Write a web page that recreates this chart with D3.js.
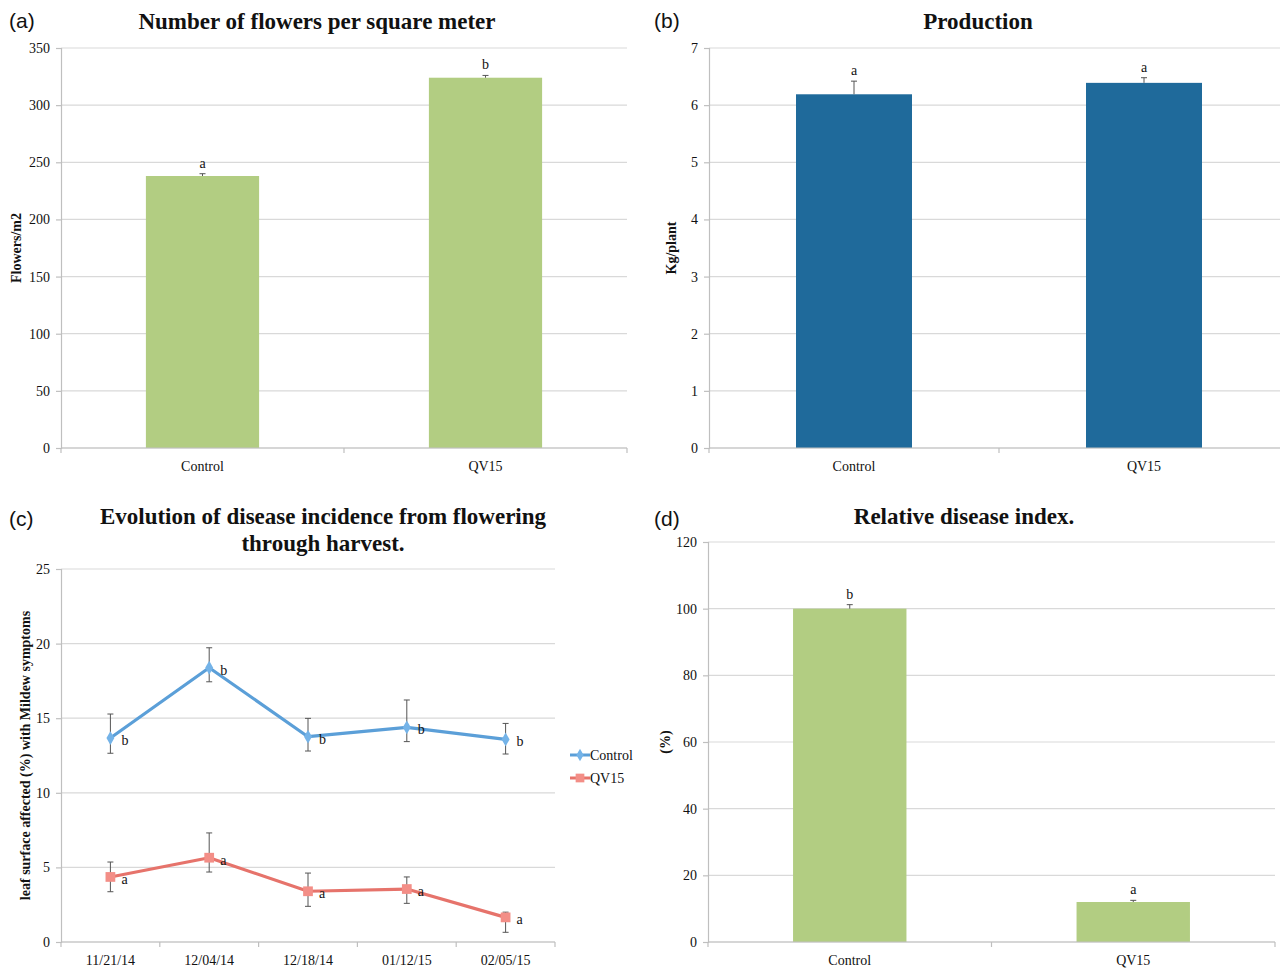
<!DOCTYPE html>
<html>
<head>
<meta charset="utf-8">
<script src="https://cdn.jsdelivr.net/npm/d3@7"></script>
<style>
  html, body { margin: 0; padding: 0; background: #fff; }
  svg { display: block; }
  svg text { font-family: "Liberation Serif", "Times New Roman", serif; fill: #111; }
  svg text.panel-tag { font-family: "Liberation Sans", Arial, sans-serif; font-size: 21px; }
  .title { font-weight: bold; font-size: 23px; }
  .ylab { font-weight: bold; font-size: 14px; }
  .sig { font-size: 14px; }
</style>
</head>
<body>
<svg id="fig" width="1280" height="968"></svg>
<script>
// ---- data ----
const treatments = ["Control", "QV15"];

// (a) flowers per square meter
const flowersMean = [238, 324];
const flowersErr = [2, 2];
const flowersSig = ["a", "b"];
const flowersTicks = [0, 50, 100, 150, 200, 250, 300, 350];

// (b) production, kg per plant
const productionMean = [6.19, 6.39];
const productionErr = [0.23, 0.09];
const productionSig = ["a", "a"];
const productionTicks = [0, 1, 2, 3, 4, 5, 6, 7];

// (c) disease incidence over time
const sampleDates = ["11/21/14", "12/04/14", "12/18/14", "01/12/15", "02/05/15"];
const controlIncidence = [13.67, 18.38, 13.76, 14.39, 13.58];
const controlErrUp = [1.61, 1.34, 1.23, 1.83, 1.07];
const controlErrDown = [1.02, 0.94, 0.96, 0.96, 0.98];
const controlSig = ["b", "b", "b", "b", "b"];
const qv15Incidence = [4.36, 5.65, 3.40, 3.55, 1.65];
const qv15ErrUp = [1.00, 1.66, 1.22, 0.81, 0.35];
const qv15ErrDown = [0.99, 0.96, 1.01, 0.96, 1.00];
const qv15Sig = ["a", "a", "a", "a", "a"];
const incidenceTicks = [0, 5, 10, 15, 20, 25];

// (d) relative disease index
const indexMean = [100, 12];
const indexErr = [1.2, 0.5];
const indexSig = ["b", "a"];
const indexTicks = [0, 20, 40, 60, 80, 100, 120];

// ---- styling ----
const GRID = "#d9d9d9";
const AXIS = "#bfbfbf";
const ERR = "#555";
const GREEN = "#b2cd82";
const NAVY = "#1f6a9b";
const BLUE_LINE = "#5b9fd8";
const BLUE_MARK = "#74b3e8";
const RED_LINE = "#e6736b";
const RED_MARK = "#f38e87";
const SERIF = '"Liberation Serif", "Times New Roman", serif';

const svg = d3.select("#fig");

function drawGridAndAxes(g, x, y, ticks, x0, x1) {
  // horizontal gridlines
  g.append("g").selectAll("line").data(ticks).join("line")
    .attr("x1", x0).attr("x2", x1)
    .attr("y1", d => y(d)).attr("y2", d => y(d))
    .attr("stroke", GRID).attr("stroke-width", 1.2);
  // y axis
  const ya = g.append("g").attr("transform", `translate(${x0},0)`)
    .call(d3.axisLeft(y).tickValues(ticks).tickSize(5).tickPadding(6).tickFormat(d3.format("d")));
  ya.select(".domain").attr("stroke", AXIS).attr("stroke-width", 1.2);
  ya.selectAll(".tick line").attr("stroke", AXIS).attr("stroke-width", 1.2);
  ya.selectAll(".tick text").style("font-size", "14px").style("font-family", SERIF).style("fill", "#111");
}

function drawCategoryAxis(g, x, y0, x0, x1, labels, labelY) {
  const edges = [x0];
  labels.forEach(c => edges.push(x(c) + x.step()));
  g.append("line").attr("x1", x0).attr("x2", x1).attr("y1", y0).attr("y2", y0)
    .attr("stroke", AXIS).attr("stroke-width", 1.2);
  g.append("g").selectAll("line").data(edges).join("line")
    .attr("x1", d => d).attr("x2", d => d).attr("y1", y0).attr("y2", y0 + 5)
    .attr("stroke", AXIS).attr("stroke-width", 1.2);
  g.append("g").selectAll("text").data(labels).join("text")
    .attr("x", d => x(d) + x.bandwidth() / 2).attr("y", labelY)
    .attr("text-anchor", "middle").style("font-size", "14px").text(d => d);
}

function barPanel(opts) {
  const g = svg.append("g");
  const x = d3.scaleBand().domain(treatments).range([opts.x0, opts.x1]).padding(0);
  const y = d3.scaleLinear().domain([0, d3.max(opts.ticks)]).range([opts.yBottom, opts.yTop]);
  drawGridAndAxes(g, x, y, opts.ticks, opts.x0, opts.x1);
  const bw = x.bandwidth() * 0.4;
  const cx = d => x(d) + x.bandwidth() / 2;
  g.append("g").selectAll("rect").data(treatments).join("rect")
    .attr("x", d => cx(d) - bw / 2).attr("width", bw)
    .attr("y", (d, i) => y(opts.values[i]))
    .attr("height", (d, i) => y(0) - y(opts.values[i]))
    .attr("fill", opts.color);
  // upper error bars
  const eb = g.append("g").attr("stroke", ERR).attr("stroke-width", 1);
  treatments.forEach((d, i) => {
    const top = y(opts.values[i] + opts.errors[i]);
    eb.append("line").attr("x1", cx(d)).attr("x2", cx(d)).attr("y1", y(opts.values[i])).attr("y2", top);
    eb.append("line").attr("x1", cx(d) - 3).attr("x2", cx(d) + 3).attr("y1", top).attr("y2", top);
  });
  g.append("g").selectAll("text").data(treatments).join("text")
    .attr("class", "sig")
    .attr("x", d => cx(d)).attr("y", (d, i) => y(opts.values[i] + opts.errors[i]) - 6)
    .attr("text-anchor", "middle").text((d, i) => opts.sig[i]);
  drawCategoryAxis(g, x, y(0), opts.x0, opts.x1, treatments, opts.yBottom + 23);
  // titles
  g.append("text").attr("class", "panel-tag").attr("x", opts.tagX).attr("y", opts.tagY).text(opts.tag);
  g.append("text").attr("class", "title").attr("x", opts.titleX).attr("y", opts.titleY)
    .attr("text-anchor", "middle").text(opts.title);
  g.append("text").attr("class", "ylab")
    .attr("transform", `translate(${opts.ylabX},${(opts.yTop + opts.yBottom) / 2}) rotate(-90)`)
    .attr("text-anchor", "middle").text(opts.ylab);
}

// (a)
barPanel({
  x0: 61, x1: 627, yTop: 48, yBottom: 448,
  ticks: flowersTicks, values: flowersMean, errors: flowersErr, sig: flowersSig,
  color: GREEN, tag: "(a)", tagX: 9, tagY: 28,
  title: "Number of flowers per square meter", titleX: 317, titleY: 29,
  ylab: "Flowers/m2", ylabX: 21
});

// (b)
barPanel({
  x0: 709, x1: 1289, yTop: 48, yBottom: 448,
  ticks: productionTicks, values: productionMean, errors: productionErr, sig: productionSig,
  color: NAVY, tag: "(b)", tagX: 654, tagY: 28,
  title: "Production", titleX: 978, titleY: 29,
  ylab: "Kg/plant", ylabX: 676
});

// (d)
barPanel({
  x0: 708, x1: 1275, yTop: 542, yBottom: 942,
  ticks: indexTicks, values: indexMean, errors: indexErr, sig: indexSig,
  color: GREEN, tag: "(d)", tagX: 654, tagY: 526,
  title: "Relative disease index.", titleX: 964, titleY: 524,
  ylab: "(%)", ylabX: 670
});

// (c) line chart
(function () {
  const g = svg.append("g");
  const x0 = 61, x1 = 555, yTop = 569, yBottom = 942;
  const x = d3.scaleBand().domain(sampleDates).range([x0, x1]).padding(0);
  const y = d3.scaleLinear().domain([0, 25]).range([yBottom, yTop]);
  drawGridAndAxes(g, x, y, incidenceTicks, x0, x1);
  drawCategoryAxis(g, x, y(0), x0, x1, sampleDates, yBottom + 23);
  const cx = d => x(d) + x.bandwidth() / 2;

  const series = [
    { name: "Control", vals: controlIncidence, up: controlErrUp, dn: controlErrDown, sig: controlSig,
      line: BLUE_LINE, mark: BLUE_MARK, shape: d3.symbolDiamond, size: 55 },
    { name: "QV15", vals: qv15Incidence, up: qv15ErrUp, dn: qv15ErrDown, sig: qv15Sig,
      line: RED_LINE, mark: RED_MARK, shape: d3.symbolSquare, size: 95 }
  ];

  series.forEach(s => {
    const pts = sampleDates.map((d, i) => [cx(d), y(s.vals[i])]);
    g.append("path").attr("d", d3.line()(pts))
      .attr("fill", "none").attr("stroke", s.line).attr("stroke-width", 3.2)
      .attr("stroke-linejoin", "round");
    const eb = g.append("g").attr("stroke", ERR).attr("stroke-width", 1);
    sampleDates.forEach((d, i) => {
      const hi = y(s.vals[i] + s.up[i]), lo = y(s.vals[i] - s.dn[i]);
      eb.append("line").attr("x1", cx(d)).attr("x2", cx(d)).attr("y1", hi).attr("y2", lo);
      eb.append("line").attr("x1", cx(d) - 3).attr("x2", cx(d) + 3).attr("y1", hi).attr("y2", hi);
      eb.append("line").attr("x1", cx(d) - 3).attr("x2", cx(d) + 3).attr("y1", lo).attr("y2", lo);
    });
    g.append("g").selectAll("path").data(pts).join("path")
      .attr("transform", p => `translate(${p[0]},${p[1]})`)
      .attr("d", d3.symbol().type(s.shape).size(s.size))
      .attr("fill", s.mark);
    g.append("g").selectAll("text").data(pts).join("text")
      .attr("class", "sig").attr("x", p => p[0] + 11).attr("y", p => p[1] + 7)
      .text((p, i) => s.sig[i]);
  });

  // legend
  const lg = g.append("g");
  series.forEach((s, i) => {
    const ly = 755 + i * 23;
    lg.append("line").attr("x1", 570).attr("x2", 590).attr("y1", ly).attr("y2", ly)
      .attr("stroke", s.line).attr("stroke-width", 3);
    lg.append("path").attr("transform", `translate(580,${ly})`)
      .attr("d", d3.symbol().type(s.shape).size(s.size * 0.8)).attr("fill", s.mark);
    lg.append("text").attr("x", 590).attr("y", ly + 5).style("font-size", "14px").text(s.name);
  });

  g.append("text").attr("class", "panel-tag").attr("x", 9).attr("y", 526).text("(c)");
  g.append("text").attr("class", "title").attr("x", 323).attr("y", 524)
    .attr("text-anchor", "middle").text("Evolution of disease incidence from flowering");
  g.append("text").attr("class", "title").attr("x", 323).attr("y", 551)
    .attr("text-anchor", "middle").text("through harvest.");
  g.append("text").attr("class", "ylab")
    .attr("transform", `translate(30,${(608 + 903) / 2}) rotate(-90)`)
    .attr("text-anchor", "middle").text("leaf surface affected (%) with Mildew symptoms");
})();
</script>
</body>
</html>
